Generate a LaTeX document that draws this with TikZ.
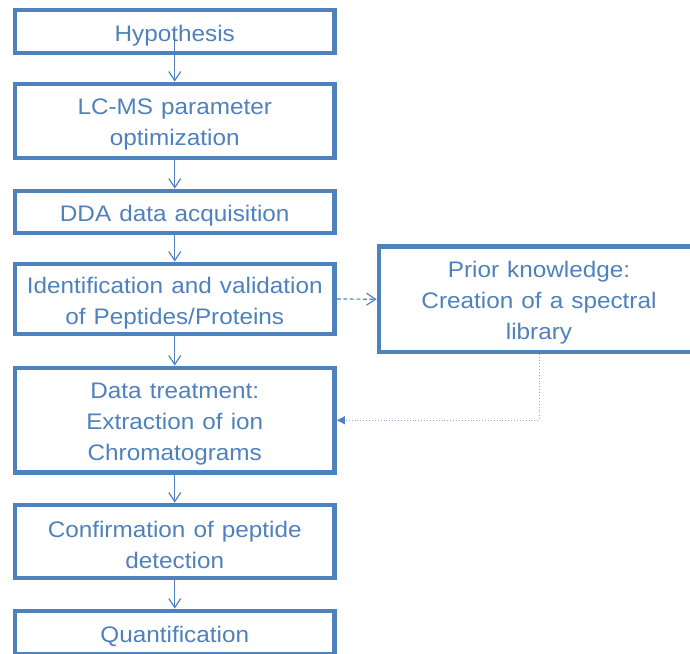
\documentclass[tikz,border=0pt]{standalone}
\usepackage{fontspec}
\setmainfont{Liberation Sans}[FakeStretch=1.08,WordSpace=1.2]
\usetikzlibrary{arrows.meta}
\definecolor{flowblue}{RGB}{79,129,189}
\definecolor{flowlight}{RGB}{140,170,215}
\begin{document}
\begin{tikzpicture}[x=1pt,y=-1pt,
  stagebox/.style={draw=flowblue, line width=4.8pt, fill=white,
    inner sep=0pt, minimum width=319.5pt},
  stagelabel/.style={text=flowblue, align=center, inner sep=0pt, yshift=-3.7pt,
    font=\fontsize{22.5pt}{31pt}\selectfont},
  flowarrow/.style={draw=flowblue, line width=1.2pt,
    -{Straight Barb[length=9pt,width=12pt,line width=1.2pt]}},
  linkarrow/.style={flowarrow, dashed, dash pattern=on 4pt off 2.5pt},
  feedarrow/.style={draw=flowlight, line width=0.9pt, dotted,
    -{Triangle[length=8pt,width=8pt,color=flowblue,fill=flowblue]}}]
  \useasboundingbox (0,0) rectangle (690,653);

  % main workflow column
  \node[stagebox, minimum height=43pt,
    label={[stagelabel]center:Hypothesis}] (hyp) at (174.75,31.5) {};
  \node[stagebox, minimum height=74pt,
    label={[stagelabel]center:{LC-MS parameter\\optimization}}] (lcms) at (174.75,121) {};
  \node[stagebox, minimum height=42pt,
    label={[stagelabel]center:DDA data acquisition}] (dda) at (174.75,212) {};
  \node[stagebox, minimum height=70pt,
    label={[stagelabel]center:{Identification and validation\\of Peptides/Proteins}}] (ident) at (174.75,299) {};
  \node[stagebox, minimum height=104.5pt,
    label={[stagelabel]center:{Data treatment:\\Extraction of ion\\Chromatograms}}] (treat) at (174.75,420.25) {};
  \node[stagebox, minimum height=73pt,
    label={[stagelabel]center:{Confirmation of peptide\\detection}}] (conf) at (174.75,541.5) {};
  \node[stagebox, minimum height=43pt,
    label={[stagelabel]center:Quantification}] (quant) at (174.75,632.5) {};

  % side branch
  \node[stagebox, minimum width=320pt, minimum height=105.5pt,
    label={[stagelabel]center:{Prior knowledge:\\Creation of a spectral\\library}}] (prior) at (539,299.25) {};

  % connectors
  \draw[flowarrow] (hyp.center) -- (lcms.north);
  \draw[flowarrow] (lcms.south) -- (dda.north);
  \draw[flowarrow] (dda.south) -- (ident.north);
  \draw[flowarrow] (ident.south) -- (treat.north);
  \draw[flowarrow] (treat.south) -- (conf.north);
  \draw[flowarrow] (conf.south) -- (quant.north);
  \draw[linkarrow] (ident.east) -- (prior.west);
  \draw[feedarrow] (prior.south) |- (treat.east);
\end{tikzpicture}
\end{document}
